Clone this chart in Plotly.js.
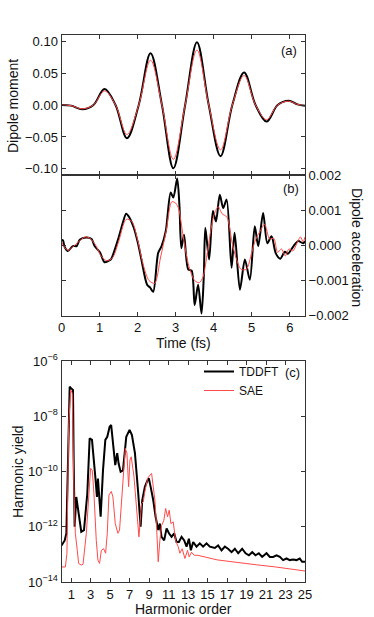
<!DOCTYPE html>
<html>
<head>
<meta charset="utf-8">
<script src="https://cdn.plot.ly/plotly-3.0.1.min.js"></script>
<style>
  html, body { margin: 0; padding: 0; background: #fff; }
  #chart { width: 374px; height: 617px; }
</style>
</head>
<body>
<div id="chart"></div>
<script>
// (a) dipole moment vs time (fs)
const timeA = [0, 0.25, 0.55, 0.84, 1.13, 1.42, 1.72, 2.03, 2.34, 2.64, 2.94, 3.25, 3.56, 3.87, 4.18, 4.49, 4.80, 5.10, 5.39, 5.68, 5.97, 6.2, 6.4];
const momentTddft = [0, -0.001, -0.0067, 0, 0.025, 0, -0.052, 0, 0.081, 0, -0.099, 0, 0.098, 0, -0.080, 0, 0.051, 0, -0.026, 0, 0.0067, 0.001, -0.001];
const momentSae = [0, -0.001, -0.006, 0, 0.022, 0, -0.046, 0, 0.070, 0, -0.085, 0, 0.086, 0, -0.070, 0, 0.046, 0, -0.023, 0, 0.006, 0.001, -0.001];

// (b) dipole acceleration vs time (fs)
const timeBTddft = [0, 0.04, 0.08, 0.17, 0.30, 0.40, 0.48, 0.65, 0.79, 0.87, 1.01, 1.13, 1.27, 1.31, 1.49, 1.60, 1.70, 1.79, 1.90, 2.01, 2.10, 2.25, 2.33, 2.41, 2.54, 2.63, 2.74, 2.87, 2.94, 3.04, 3.10, 3.15, 3.22, 3.33, 3.42, 3.50, 3.59, 3.68, 3.74, 3.78, 3.88, 3.98, 4.06, 4.16, 4.25, 4.34, 4.47, 4.55, 4.69, 4.82, 4.95, 5.08, 5.17, 5.30, 5.41, 5.52, 5.63, 5.75, 5.87, 5.95, 6.10, 6.22, 6.35, 6.40];
const accelTddft = [0.16e-3, 0.14e-3, -0.04e-3, -0.16e-3, -0.02e-3, -0.02e-3, 0.16e-3, 0.22e-3, 0.18e-3, -0.02e-3, -0.20e-3, -0.48e-3, -0.42e-3, -0.38e-3, 0.18e-3, 0.60e-3, 0.90e-3, 0.78e-3, 0.50e-3, 0.06e-3, -0.40e-3, -1.12e-3, -1.20e-3, -1.32e-3, -0.22e-3, -0.02e-3, 0.40e-3, 1.50e-3, 1.36e-3, 1.90e-3, 1.12e-3, -0.08e-3, 0.30e-3, -0.68e-3, -0.72e-3, -1.70e-3, -1.12e-3, -1.94e-3, -0.88e-3, 0.50e-3, -0.40e-3, 0.98e-3, 0.68e-3, 1.44e-3, 1.06e-3, 1.30e-3, -0.64e-3, 0.36e-3, -1.26e-3, -0.40e-3, -0.98e-3, 0.54e-3, -0.02e-3, 0.92e-3, 0.06e-3, 0.26e-3, -0.22e-3, -0.38e-3, -0.18e-3, -0.24e-3, -0.02e-3, 0.12e-3, 0.06e-3, 0.12e-3];
const timeBSae = [0, 0.08, 0.18, 0.30, 0.45, 0.62, 0.75, 0.90, 1.05, 1.20, 1.35, 1.50, 1.70, 1.85, 2.00, 2.15, 2.30, 2.45, 2.60, 2.75, 2.90, 3.00, 3.08, 3.20, 3.35, 3.50, 3.62, 3.72, 3.82, 3.92, 4.02, 4.12, 4.22, 4.35, 4.48, 4.60, 4.72, 4.86, 5.00, 5.10, 5.22, 5.34, 5.47, 5.58, 5.68, 5.78, 5.88, 5.98, 6.08, 6.18, 6.28, 6.35, 6.40];
const accelSae = [0.10e-3, -0.06e-3, -0.14e-3, -0.04e-3, 0.10e-3, 0.24e-3, 0.20e-3, 0.00, -0.32e-3, -0.44e-3, -0.34e-3, 0.10e-3, 0.74e-3, 0.68e-3, 0.16e-3, -0.56e-3, -1.00e-3, -1.08e-3, -0.36e-3, 0.40e-3, 1.24e-3, 1.20e-3, 1.04e-3, 0.24e-3, -0.60e-3, -1.00e-3, -1.06e-3, -0.90e-3, -0.30e-3, 0.40e-3, 0.90e-3, 1.10e-3, 0.90e-3, 0.80e-3, 0.10e-3, -0.40e-3, -0.68e-3, -0.68e-3, -0.20e-3, 0.16e-3, 0.40e-3, 0.60e-3, 0.18e-3, 0.20e-3, -0.20e-3, -0.10e-3, -0.30e-3, -0.10e-3, -0.16e-3, 0.04e-3, 0.24e-3, 0.10e-3, 0.24e-3];

// (c) harmonic spectra
const orderTddft = [0, 0.33, 0.50, 0.67, 0.84, 1.00, 1.18, 1.25, 1.35, 1.52, 1.76, 2.03, 2.31, 2.65, 2.89, 3.13, 3.47, 3.64, 3.74, 4.02, 4.26, 4.50, 4.70, 4.94, 5.10, 5.28, 5.52, 5.72, 5.87, 6.07, 6.31, 6.65, 6.99, 7.23, 7.54, 7.88, 8.12, 8.29, 8.56, 8.84, 8.97, 9.18, 9.42, 9.66, 9.93, 10.10, 10.27, 10.54, 10.79, 11.03, 11.30, 11.57, 11.81, 12.05, 12.33, 12.60, 12.84, 13.08, 13.28, 13.52, 13.86, 14.20, 14.54, 14.89, 15.23, 15.74, 16.08, 16.43, 16.77, 17.10, 17.46, 17.80, 18.14, 18.55, 18.90, 19.24, 19.58, 19.92, 20.26, 20.60, 21.05, 21.39, 21.73, 22.07, 22.42, 22.75, 23.10, 23.44, 23.78, 24.12, 24.46, 24.70, 25.00];
const yieldTddft = [2.1e-13, 3.2e-13, 5.8e-13, 2.6e-10, 1.17e-7, 1.02e-7, 8.9e-8, 2.5e-10, 1.0e-12, 1.2e-11, 3.0e-12, 6.6e-13, 7.6e-13, 1.6e-11, 1.6e-9, 1.4e-9, 6.5e-11, 1.2e-11, 5.6e-11, 2.3e-12, 1.1e-10, 1.4e-9, 1.8e-9, 4.2e-9, 4.8e-9, 1.4e-9, 1.7e-10, 4.6e-10, 1.9e-10, 9.8e-11, 1.1e-10, 1.8e-9, 3.2e-9, 2.1e-9, 4.6e-10, 1.6e-11, 1.0e-12, 9.1e-12, 2.8e-11, 4.9e-11, 5.6e-11, 2.5e-11, 9.1e-12, 2.3e-12, 7.6e-13, 1.3e-12, 4.3e-13, 3.2e-13, 8.7e-13, 5.8e-13, 4.3e-13, 5.8e-13, 2.8e-13, 2.8e-13, 4.3e-13, 3.2e-13, 1.9e-13, 3.7e-13, 1.4e-13, 2.8e-13, 1.9e-13, 2.5e-13, 1.9e-13, 2.5e-13, 1.9e-13, 1.7e-13, 2.1e-13, 1.4e-13, 1.9e-13, 1.6e-13, 1.2e-13, 1.6e-13, 1.1e-13, 1.6e-13, 1.1e-13, 9.3e-14, 1.2e-13, 9.3e-14, 1.1e-13, 8.1e-14, 1.1e-13, 8.1e-14, 8.1e-14, 9.3e-14, 8.1e-14, 6.2e-14, 7.1e-14, 6.2e-14, 6.5e-14, 6.2e-14, 7.1e-14, 5.4e-14, 5.4e-14];
const orderSae = [0, 0.40, 0.56, 0.73, 0.94, 1.11, 1.28, 1.42, 1.62, 1.76, 2.03, 2.21, 2.55, 2.79, 2.99, 3.16, 3.33, 3.57, 3.74, 3.91, 4.09, 4.32, 4.53, 4.70, 4.87, 5.11, 5.28, 5.52, 5.79, 5.96, 6.14, 6.31, 6.55, 6.72, 6.89, 7.03, 7.16, 7.44, 7.67, 7.95, 8.22, 8.39, 8.56, 8.84, 9.08, 9.25, 9.42, 9.59, 9.76, 9.93, 10.10, 10.27, 10.51, 10.69, 10.89, 11.06, 11.23, 11.47, 11.71, 11.98, 12.15, 12.39, 12.67, 12.94, 13.11, 13.35, 13.62, 13.97, 16, 18, 20, 22, 24, 25];
const yieldSae = [3.5e-14, 3.5e-14, 1.1e-13, 4.2e-9, 8.9e-8, 6.8e-8, 1.6e-11, 5.8e-13, 1.4e-13, 4.7e-14, 4.1e-14, 4.4e-14, 5.8e-13, 1.6e-11, 1.3e-10, 1.1e-10, 1.6e-11, 3.2e-13, 6.2e-14, 4.7e-14, 1.4e-13, 1.6e-13, 1.1e-13, 5.8e-13, 1.4e-11, 1.9e-11, 1.2e-11, 1.3e-12, 5.8e-13, 7.6e-13, 6.9e-12, 6.5e-11, 6.9e-10, 4.6e-10, 2.8e-11, 2.6e-10, 3.4e-10, 6.5e-11, 6.9e-12, 4.3e-13, 6.9e-12, 7.9e-12, 1.9e-11, 5.6e-11, 7.4e-11, 8.5e-11, 2.8e-11, 9.1e-12, 1.0e-12, 5.4e-14, 3.2e-13, 1.1e-12, 1.7e-12, 4.6e-12, 2.3e-12, 4.0e-12, 1.3e-12, 1.5e-12, 3.2e-13, 1.9e-13, 1.1e-13, 1.6e-13, 7.1e-14, 1.4e-13, 8.1e-14, 1.2e-13, 9.3e-14, 9.3e-14, 6.3e-14, 5.0e-14, 4.2e-14, 3.5e-14, 2.9e-14, 2.5e-14];

const yieldTicks = [1e-14, 1e-12, 1e-10, 1e-8, 1e-6];
const yieldTickText = ["10<sup>−14</sup>", "10<sup>−12</sup>", "10<sup>−10</sup>", "10<sup>−8</sup>", "10<sup>−6</sup>"];
const orderTicks = [1, 3, 5, 7, 9, 11, 13, 15, 17, 19, 21, 23, 25];

const black = "#000000";
const red = "#ff4a4a";
const W = 374, H = 617;
const px = v => v / W;
const py = v => 1 - v / H;
const dom = [px(61.5), px(305)];

const frame = {
  showline: true, linecolor: "#333", linewidth: 1, mirror: "allticks",
  ticks: "inside", ticklen: 4, tickcolor: "#333",
  showgrid: false, zeroline: false
};

const traces = [
  { x: timeA, y: momentTddft, xaxis: "x", yaxis: "y", mode: "lines", showlegend: false,
    line: { color: black, width: 2, shape: "spline", smoothing: 1 } },
  { x: timeA, y: momentSae, xaxis: "x", yaxis: "y", mode: "lines", showlegend: false,
    line: { color: red, width: 1, shape: "spline", smoothing: 1 } },
  { x: timeBTddft, y: accelTddft, xaxis: "x2", yaxis: "y2", mode: "lines", showlegend: false,
    line: { color: black, width: 2, shape: "spline", smoothing: 0.8 } },
  { x: timeBSae, y: accelSae, xaxis: "x2", yaxis: "y2", mode: "lines", showlegend: false,
    line: { color: red, width: 1, shape: "spline", smoothing: 0.8 } },
  { x: orderTddft, y: yieldTddft, xaxis: "x3", yaxis: "y3", mode: "lines", name: "TDDFT",
    line: { color: black, width: 2 } },
  { x: orderSae, y: yieldSae, xaxis: "x3", yaxis: "y3", mode: "lines", name: "SAE",
    line: { color: red, width: 1 } }
];

const lbl = { family: "Liberation Sans, Arial, sans-serif", size: 14, color: "#111" };
function note(text, x, y, angle, font) {
  return { text: text, x: px(x), y: py(y), xref: "paper", yref: "paper", showarrow: false,
    xanchor: "center", yanchor: "middle", textangle: angle || 0, font: font || { size: 13 } };
}

const layout = {
  width: W, height: H,
  margin: { l: 0, r: 0, t: 0, b: 0 },
  paper_bgcolor: "#fff", plot_bgcolor: "#fff",
  font: { family: "Liberation Sans, Arial, sans-serif", size: 13, color: "#111" },
  xaxis: Object.assign({}, frame, { domain: dom, anchor: "y", range: [0, 6.4], dtick: 1, showticklabels: false }),
  yaxis: Object.assign({}, frame, { domain: [py(175), py(35)], anchor: "x", range: [-0.1095, 0.1095],
    tickvals: [-0.1, -0.05, 0, 0.05, 0.1], tickformat: ".2f" }),
  xaxis2: Object.assign({}, frame, { domain: dom, anchor: "y2", range: [0, 6.4], dtick: 1 }),
  yaxis2: Object.assign({}, frame, { domain: [py(315.7), py(175)], anchor: "x2", side: "right",
    range: [-0.002, 0.002], tickvals: [-0.002, -0.001, 0, 0.001, 0.002], tickformat: ".3f" }),
  xaxis3: Object.assign({}, frame, { domain: dom, anchor: "y3", range: [0, 25], tickvals: orderTicks }),
  yaxis3: Object.assign({}, frame, { domain: [py(582), py(361)], anchor: "x3", type: "log",
    range: [-14, -6], tickvals: yieldTicks, ticktext: yieldTickText }),
  legend: { x: px(199), y: py(357), xanchor: "left", yanchor: "top", bgcolor: "rgba(0,0,0,0)",
    font: { size: 12 }, tracegroupgap: 0 },
  annotations: [
    note("(a)", 289, 50),
    note("(b)", 291, 188),
    note("(c)", 292, 372),
    note("Dipole moment", 13, 106, -90, lbl),
    note("Dipole acceleration", 357, 247, 90, lbl),
    note("Time (fs)", 183, 343, 0, lbl),
    note("Harmonic yield", 18, 472, -90, lbl),
    note("Harmonic order", 183, 609, 0, lbl)
  ]
};

Plotly.newPlot("chart", traces, layout, { staticPlot: true, displayModeBar: false });
</script>
</body>
</html>
